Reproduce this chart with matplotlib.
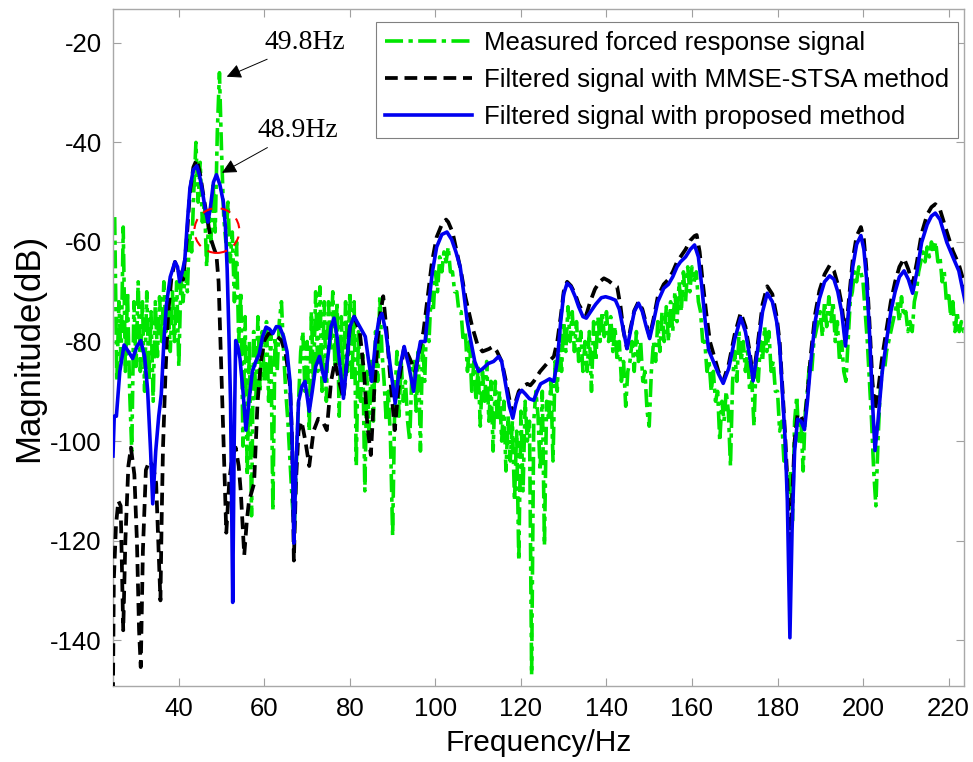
import numpy as np
import matplotlib
matplotlib.use("Agg")
import matplotlib.pyplot as plt
from matplotlib.patches import Ellipse

plt.rcParams['font.family'] = ['Liberation Sans', 'DejaVu Sans']
plt.rcParams['axes.unicode_minus'] = False

# ---------------- data ----------------
# Measured forced response signal, sampled every 0.5 Hz from 25 Hz
measured_start = 25.0
measured_step = 0.5
measured_db = [
    -55, -88, -72, -84, -57, -86, -70, -90, -102, -72,
    -85, -68, -86, -72, -90, -70, -88, -74, -92, -72,
    -83, -71, -80, -68, -78, -72, -82, -70, -80, -68,
    -85, -67, -72, -66, -70, -58, -62, -50, -40, -52,
    -44, -56, -52, -65, -55, -60, -48, -58, -38, -26,
    -42, -55, -60, -52, -64, -58, -72, -60, -80, -70,
    -101, -75, -107, -80, -115, -78, -92, -75, -90, -78,
    -88, -76, -92, -78, -114, -79, -86, -76, -72, -82,
    -90, -96, -104, -112, -118, -104, -92, -82, -78, -90,
    -80, -98, -74, -88, -70, -86, -69, -90, -72, -92,
    -72, -82, -70, -85, -72, -95, -75, -88, -72, -86,
    -70, -88, -72, -105, -78, -92, -82, -110, -86, -98,
    -84, -96, -78, -88, -71, -82, -88, -96, -90, -100,
    -119, -92, -82, -95, -84, -92, -88, -96, -100, -86,
    -84, -94, -82, -102, -80, -88, -74, -80, -70, -74,
    -66, -70, -63, -66, -62, -64, -61, -66, -66, -70,
    -70, -74, -74, -80, -78, -86, -80, -90, -84, -92,
    -85, -97, -86, -92, -84, -96, -88, -102, -88, -96,
    -90, -100, -92, -106, -95, -104, -96, -112, -98, -124,
    -94, -110, -92, -100, -96, -147, -96, -90, -95, -106,
    -90, -121, -92, -96, -88, -104, -84, -90, -78, -86,
    -76, -82, -73, -80, -74, -82, -76, -84, -78, -86,
    -80, -86, -78, -90, -76, -84, -75, -80, -74, -79,
    -74, -80, -75, -82, -77, -84, -80, -88, -84, -93,
    -86, -84, -80, -86, -78, -84, -80, -88, -86, -94,
    -97, -86, -80, -84, -76, -82, -74, -80, -73, -80,
    -72, -78, -70, -76, -68, -74, -66, -72, -65, -70,
    -65, -68, -66, -72, -74, -80, -80, -86, -84, -90,
    -86, -92, -90, -100, -92, -96, -90, -94, -105, -88,
    -82, -88, -78, -84, -80, -86, -82, -90, -88, -97,
    -84, -88, -80, -84, -77, -82, -78, -86, -84, -90,
    -90, -98, -96, -104, -104, -112, -106, -116, -96, -91,
    -100, -96, -106, -94, -90, -84, -86, -80, -78, -76,
    -74, -79, -72, -77, -71, -76, -72, -80, -76, -84,
    -80, -86, -88, -80, -72, -70, -66, -68, -65, -66,
    -68, -74, -80, -88, -96, -106, -113, -100, -90, -86,
    -86, -82, -80, -78, -76, -74, -72, -76, -71, -75,
    -74, -78, -76, -78, -72, -70, -66, -64, -62, -64,
    -61, -63, -60, -62, -60, -64, -63, -68, -66, -72,
    -70, -75, -72, -78, -74, -78, -76, -78, -78, -78,
]

# Filtered signal with MMSE-STSA method (frequency, dB)
mmse_freq = [
    24.6, 24.8, 25.3, 25.85, 26.4, 26.7, 27.0, 27.5, 28.2, 28.8, 29.6, 30.2, 30.7, 31.1, 31.6,
    32.3, 33.1, 34.0, 34.7, 35.2, 35.7, 36.0, 36.3, 36.9, 37.5, 38.3, 39.1, 40.0, 41.0, 41.8,
    42.6, 43.4, 44.2, 45.0, 45.8, 46.6, 47.4, 48.1, 48.8, 49.3, 49.7, 50.1, 50.5, 51.1, 51.8,
    52.5, 53.3, 54.0, 54.5, 55.3, 55.9, 56.4, 57.1, 57.6, 58.4, 59.2, 60.0, 61.0, 62.0, 63.0,
    64.0, 65.0, 66.0, 66.5, 66.9, 67.4, 68.0, 68.7, 69.6, 70.5, 71.5, 72.6, 73.6, 74.6, 75.6,
    76.5, 77.5, 78.5, 79.2, 80.0, 81.0, 82.3, 83.3, 84.1, 84.9, 85.7, 86.8, 87.8, 88.6, 89.5,
    90.5, 91.5, 92.7, 93.8, 95.3, 96.2, 97.2, 98.2, 99.2, 100.3, 101.5, 102.5, 103.0, 104.0, 105.0,
    106.0, 107.0, 108.6, 109.8, 111.0, 112.5, 113.5, 114.4, 115.5, 116.5, 117.5, 118.1, 118.8, 119.5, 120.5,
    121.5, 122.2, 123.0, 124.5, 126.0, 127.7, 128.5, 129.3, 130.0, 130.8, 131.7, 132.7, 133.5, 134.5, 135.3,
    136.2, 137.3, 138.4, 139.4, 140.5, 141.5, 142.5, 143.3, 144.0, 144.8, 145.6, 146.5, 147.5, 148.4, 149.3,
    150.1, 151.0, 152.0, 153.4, 154.5, 155.5, 156.5, 157.3, 158.5, 159.6, 160.6, 161.1, 161.8, 162.5, 163.3,
    164.2, 165.0, 166.2, 167.3, 168.6, 170.0, 171.4, 172.5, 173.5, 174.3, 175.3, 176.5, 177.6, 178.8, 179.8,
    180.5, 181.2, 181.8, 182.3, 182.9, 183.4, 184.0, 184.7, 185.5, 186.3, 187.0, 187.8, 188.8, 189.8, 191.0,
    192.2, 193.2, 194.1, 195.0, 195.9, 196.7, 197.6, 198.5, 199.5, 200.2, 200.8, 201.5, 202.2, 202.8, 203.5,
    204.5, 205.5, 206.5, 207.5, 208.5, 209.6, 210.6, 211.6, 212.6, 213.7, 215.0, 216.0, 216.9, 218.0, 219.6,
    221.0, 222.4, 223.9,
]
mmse_db = [
    -151, -128, -117, -112, -113, -125, -138, -120, -105, -101.3, -106.7, -120, -138, -145.4, -122,
    -105.8, -104, -105, -108.5, -120, -132, -115, -101.3, -86, -74.4, -67, -64, -66, -67.6, -60,
    -50, -45, -43.4, -46.5, -51, -55, -59.1, -61, -62.7, -68, -78.9, -90, -101.3, -118.4, -108,
    -103.1, -101.3, -105, -110.3, -122.9, -116, -112.1, -110, -108.5, -92.4, -84, -79.8, -78.4, -78.4, -79,
    -79.8, -82.5, -88.8, -100, -124, -108, -98, -96, -100, -105, -98, -95.5, -96, -97.8, -88,
    -84, -88, -91.4, -85, -77, -75, -78, -86, -97, -102.8, -90, -76, -70.9, -78, -88,
    -97.8, -88, -81, -83, -86, -82, -78, -71, -64, -59, -56.5, -55.5, -56, -58, -62,
    -66, -71, -77, -80.5, -82, -81.5, -81, -82, -84, -88, -92.5, -94.4, -92, -90, -89,
    -88.5, -88.8, -88, -86, -84.5, -83, -80, -75, -70, -68, -68.8, -70.5, -72.5, -74, -74.6,
    -72, -69.5, -68, -67.3, -67.8, -68.5, -69, -73, -78, -81.4, -77.5, -73.8, -72, -73.5, -76.5,
    -79, -75.5, -71, -68.5, -67.5, -66, -64, -63, -61.5, -59.7, -58.8, -58.6, -62, -68, -74,
    -80, -82.4, -86, -88, -84.5, -78.5, -74.2, -77, -82, -87.5, -81, -72.5, -68.9, -70.5, -75,
    -80, -90, -99, -108, -122, -112, -100, -94.5, -95, -96.5, -90.5, -82.5, -74.5, -69.8, -66.5,
    -64.7, -65.8, -68.5, -72.5, -79.5, -71.5, -63.5, -58.8, -57, -59.5, -65.5, -76, -88, -93.9, -90,
    -83, -77.5, -72, -68, -65, -63.3, -65.5, -68.5, -64, -58.3, -54.5, -53, -52.4, -53.5, -58,
    -61.8, -64.5, -69,
]

# Filtered signal with proposed method (frequency, dB)
proposed_freq = [
    24.6, 24.9, 25.4, 26.2, 27.2, 28.2, 29.2, 30.2, 31.1, 32.0, 32.7, 33.4, 33.9, 34.6, 35.3,
    35.9, 36.5, 37.1, 38.0, 39.1, 39.7, 40.2, 40.8, 41.4, 42.0, 42.6, 43.4, 44.2, 44.8, 45.4,
    46.1, 46.8, 47.4, 48.1, 48.8, 49.6, 50.4, 50.9, 51.3, 51.7, 52.1, 52.6, 52.95, 53.3, 53.8,
    54.3, 55.0, 55.7, 56.4, 57.2, 58.0, 58.8, 59.6, 60.4, 61.2, 62.0, 62.8, 63.6, 64.5, 65.3,
    66.0, 66.5, 66.9, 67.4, 68.0, 68.8, 69.5, 70.5, 71.2, 72.0, 72.9, 73.6, 74.2, 75.0, 75.6,
    76.3, 77.0, 77.8, 78.5, 79.2, 80.0, 81.0, 82.3, 83.6, 84.4, 85.1, 86.0, 86.8, 87.5, 88.4,
    89.3, 90.6, 91.5, 92.7, 93.8, 94.9, 95.7, 96.5, 97.6, 98.5, 99.3, 100.3, 101.5, 102.7, 103.8,
    104.8, 105.8, 106.6, 107.4, 108.3, 109.2, 110.1, 111.0, 112.4, 113.6, 114.8, 115.5, 116.5, 117.3, 118.1,
    118.8, 119.5, 120.2, 121.0, 122.0, 123.0, 123.8, 124.6, 125.7, 126.7, 127.7, 128.5, 129.3, 130.0, 130.8,
    131.7, 132.7, 133.5, 134.5, 135.3, 136.3, 137.5, 138.8, 139.8, 141.0, 142.1, 143.0, 143.8, 144.8, 145.6,
    146.5, 147.5, 148.4, 149.3, 150.1, 151.0, 152.0, 153.4, 154.5, 155.5, 156.5, 157.3, 158.5, 159.6, 160.6,
    161.5, 162.3, 163.1, 163.9, 165.0, 166.2, 167.3, 168.6, 170.0, 171.4, 172.5, 173.5, 174.3, 175.3, 176.5,
    177.6, 178.8, 179.8, 180.5, 181.2, 181.8, 182.3, 182.9, 183.4, 184.0, 184.7, 185.5, 186.3, 187.0, 187.8,
    188.8, 189.8, 191.0, 192.2, 193.2, 194.1, 195.0, 195.9, 196.7, 197.6, 198.5, 199.5, 200.2, 200.8, 201.5,
    202.2, 202.8, 203.5, 204.5, 205.5, 206.5, 207.5, 208.5, 209.6, 210.6, 211.6, 212.6, 213.7, 215.0, 216.0,
    216.9, 218.0, 219.6, 221.0, 222.4, 223.9,
]
proposed_db = [
    -103, -95, -95, -86, -80.7, -82, -83.4, -81, -79.8, -83, -89.7, -102, -112.6, -102, -95,
    -90.6, -80, -72.6, -67, -64, -65, -68, -66, -63.6, -56, -49.2, -45.5, -44.7, -46.5, -49.2,
    -53, -56, -53, -48, -46.5, -48.5, -51.9, -57, -65.4, -78, -92.4, -132.4, -100, -79.8, -81,
    -83.4, -90, -97.8, -92, -86, -84, -82.5, -79, -77.1, -77.5, -78.4, -77, -77.1, -79, -82,
    -88, -100, -120.5, -105, -92, -89, -88, -94, -90, -85, -83, -86, -88, -82, -77,
    -75.3, -79, -86, -91.4, -85, -77, -75, -77, -79, -84, -88, -80, -75.5, -74.4, -78,
    -84, -92.4, -86, -81, -85, -90, -84, -80, -80, -72, -66, -61, -58.5, -58, -59.5,
    -62, -65, -70, -75.7, -80, -84, -86, -85.5, -84.4, -84, -83, -84, -89, -93, -95.4,
    -92.5, -90.5, -89.8, -90.5, -91.5, -91.8, -90, -88.5, -88, -87.5, -88, -84, -76, -70.5, -68.3,
    -69, -71, -73, -75, -75.3, -74, -72.5, -71.2, -71, -71.3, -71.7, -73.5, -77, -81.4, -78,
    -74, -72.3, -74, -77, -79.4, -76, -72, -69.3, -68.5, -67, -65, -64, -63, -61.5, -60.6,
    -63, -69, -76, -81.7, -84, -86.5, -88.4, -85.4, -79.5, -75.2, -78, -83, -87.9, -82, -74,
    -70.3, -72, -76, -81, -91, -100, -112, -139.5, -118, -102, -95.6, -96, -97.7, -92, -84,
    -76, -71.4, -68, -66.8, -67.5, -70, -74, -80.9, -73, -65, -60.5, -58.7, -61.5, -67.2, -78,
    -92, -101.9, -96, -86, -79.8, -74, -70, -67, -65.8, -67.5, -70.3, -66, -60.1, -56.5, -54.8,
    -54.2, -55.5, -60.1, -63, -65.8, -72.1,
]

series_labels = ["Measured forced response signal",
                 "Filtered signal with MMSE-STSA method",
                 "Filtered signal with proposed method"]
x_ticks = [40, 60, 80, 100, 120, 140, 160, 180, 200, 220]
y_ticks = [-140, -120, -100, -80, -60, -40, -20]

# ---------------- figure ----------------
fig = plt.figure(figsize=(9.73, 7.62), dpi=100)
ax = fig.add_axes([0.1161, 0.0997, 0.8746, 0.8885])

measured_freq = measured_start + measured_step * np.arange(len(measured_db))

ax.plot(measured_freq, measured_db, color='#00e600', lw=2.6, linestyle=(0, (5, 1.5, 1.2, 1.5)),
        label=series_labels[0], zorder=2)
ax.plot(mmse_freq, mmse_db, color='black', lw=2.7, linestyle=(0, (3.4, 1.8)),
        label=series_labels[1], zorder=3)
ax.plot(proposed_freq, proposed_db, color='#0000f0', lw=2.6, linestyle='-',
        label=series_labels[2], zorder=4)

ax.set_xlim(24.6, 223.6)
ax.set_ylim(-149.2, -13.2)
ax.set_xticks(x_ticks)
ax.set_yticks(y_ticks)
ax.tick_params(direction='in', top=True, right=True, length=6, width=0.8,
               color='#a0a0a0', labelsize=18.5, pad=8)
for s in ax.spines.values():
    s.set_color('#a8a8a8')
    s.set_linewidth(1.0)

ax.set_xlabel('Frequency/Hz', fontsize=21.5, labelpad=6)
ax.set_ylabel('Magnitude(dB)', fontsize=25, labelpad=4)

leg = ax.legend(loc='upper right', bbox_to_anchor=(0.993, 0.981), borderaxespad=0,
                fontsize=18.5, handlelength=3.4, handletextpad=0.45, fancybox=False,
                framealpha=1, edgecolor='#808080', borderpad=0.35, labelspacing=0.5)
leg.get_frame().set_linewidth(0.8)

serif = ['Liberation Serif', 'DejaVu Serif']
ax.annotate('49.8Hz', xy=(51.2, -26.8), xytext=(60.1, -20.0), ha='left', va='center',
            fontsize=20, family=serif,
            arrowprops=dict(arrowstyle='-|>', color='black', lw=0.7, mutation_scale=22,
                            shrinkA=2, shrinkB=0), zorder=6)
ax.annotate('48.9Hz', xy=(50.1, -46.1), xytext=(58.3, -37.7), ha='left', va='center',
            fontsize=20, family=serif,
            arrowprops=dict(arrowstyle='-|>', color='black', lw=0.7, mutation_scale=22,
                            shrinkA=2, shrinkB=0), zorder=6)

ell = Ellipse((48.9, -57.7), 10.5, 9.0, fill=False, edgecolor='red', lw=1.5,
              linestyle=(0, (5, 4)), zorder=5)
ax.add_patch(ell)

fig.savefig('out.png', dpi=100)
